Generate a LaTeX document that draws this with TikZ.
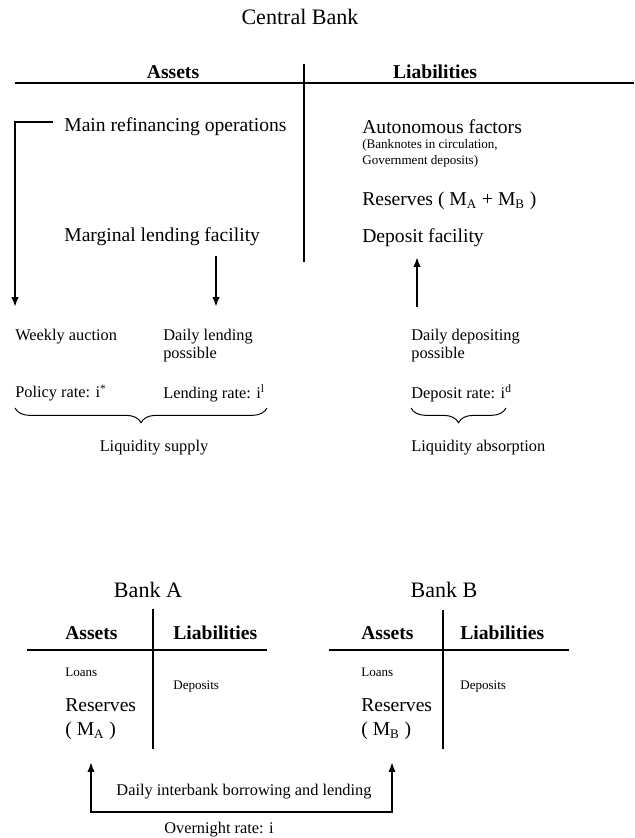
\documentclass[tikz,border=0pt]{standalone}
\usepackage{fontspec}
\setmainfont{Liberation Serif}
\usetikzlibrary{arrows.meta,decorations.pathreplacing}

\begin{document}
\begin{tikzpicture}[x=0.612pt, y=-0.612pt,
	txt/.style={anchor=west, inner sep=0pt, align=left, font=\fontsize{12}{14.7}\selectfont},
	small/.style={anchor=west, inner sep=0pt, align=left, font=\fontsize{10}{11}\selectfont},
	tiny/.style={anchor=west, inner sep=0pt, align=left, font=\fontsize{8}{9.8}\selectfont},
	head/.style={inner sep=0pt, font=\fontsize{12}{14}\selectfont\bfseries},
	titel/.style={inner sep=0pt, font=\fontsize{13.5}{16}\selectfont},
	konto/.style={line width=1pt},
	pfeil/.style={line width=1.3pt, -{Latex[length=6pt,width=4.5pt]}},
	doppelpfeil/.style={line width=1.3pt, {Latex[length=6pt,width=4.5pt]}-{Latex[length=6pt,width=4.5pt]}},
	klammer/.style={line width=0.6pt, decorate, decoration={brace, mirror, amplitude=9pt}}]
\useasboundingbox (0,0) rectangle (634,838);

% Zentralbank
\begin{scope}[local bounding box=CB]
	% Konto zeichnen
	\node[titel] (cb) at (300,17) {Central Bank};
	\draw[konto] (15,83) -- (634,83);
	\draw[konto] (304,64) -- (304,262);
	\node[head] (cbAssets) at (173,72) {Assets};
	\node[head] (cbLiab) at (435,72) {Liabilities};
	% Aktiva
	\node[txt] (mro) at (64,127) {Main refinancing operations};
	\node[txt] (mlf) at (64,237) {Marginal lending facility};
	% Passiva
	\node[txt] (af) at (362,127) {Autonomous factors};
	\node[tiny] (bn) at (362,153) {(Banknotes in circulation,\\Government deposits)};
	\node[txt] (res) at (362,201) {Reserves ( M\textsubscript{A} + M\textsubscript{B} )};
	\node[txt] (df) at (362,238) {Deposit facility};
\end{scope}

% Fazilitaeten
\node[small] (wa) at (15,337) {Weekly auction};
\node[small] (dl) at (163,346) {Daily lending\\possible};
\node[small] (dd) at (411,346) {Daily depositing\\possible};
\node[small] (pr) at (15,393) {Policy rate: i\textsuperscript{*}};
\node[small] (lr) at (163,393) {Lending rate: i\textsuperscript{l}};
\node[small] (dr) at (411,393) {Deposit rate: i\textsuperscript{d}};
\node[small, anchor=center] (ls) at (154,448) {Liquidity supply};
\node[small] (la) at (411,448) {Liquidity absorption};

% Pfeile
\coordinate (mroEnde) at (53,122);
\coordinate (waPfeil) at (15,307);
\coordinate (mlfPfeil) at (216,256);
\coordinate (dlPfeil) at (216,307);
\coordinate (ddPfeil) at (417,307);
\coordinate (dfPfeil) at (417,257);
\draw[pfeil] (mroEnde) -| (waPfeil);
\draw[pfeil] (mlfPfeil) -- (dlPfeil);
\draw[pfeil] (ddPfeil) -- (dfPfeil);

% Klammern
\draw[klammer] (15,408) -- (267,408);
\draw[klammer] (411,408) -- (506,408);

% Bank A
\begin{scope}[local bounding box=BA]
	\node[titel] (bankA) at (148,590) {Bank A};
	\draw[konto] (153,609) -- (153,749);
	\draw[konto] (27,650) -- (267,650);
	\node[head, anchor=west] (aAssets) at (65,633) {Assets};
	\node[head, anchor=west] (aLiab) at (173,633) {Liabilities};
	\node[tiny] (aLoans) at (65,672) {Loans};
	\node[tiny] (aDep) at (173,687) {Deposits};
	\node[txt] (aRes) at (65,719) {Reserves\\( M\textsubscript{A} )};
\end{scope}

% Bank B
\begin{scope}[local bounding box=BB]
	\node[titel] (bankB) at (444,590) {Bank B};
	\draw[konto] (443,610) -- (443,749);
	\draw[konto] (329,650) -- (569,650);
	\node[head, anchor=west] (bAssets) at (361,633) {Assets};
	\node[head, anchor=west] (bLiab) at (460,633) {Liabilities};
	\node[tiny] (bLoans) at (361,672) {Loans};
	\node[tiny] (bDep) at (460,687) {Deposits};
	\node[txt] (bRes) at (361,719) {Reserves\\( M\textsubscript{B} )};
\end{scope}

% Interbankenmarkt
\coordinate (aPfeil) at (91,762);
\coordinate (bPfeil) at (392,762);
\draw[doppelpfeil] (aPfeil) -- ++(0,50) -| (bPfeil);
\node[small, anchor=center] (ib) at (244,792) {Daily interbank borrowing and lending};
\node[small, anchor=center] (on) at (219,830) {Overnight rate: i};
\end{tikzpicture}
\end{document}
